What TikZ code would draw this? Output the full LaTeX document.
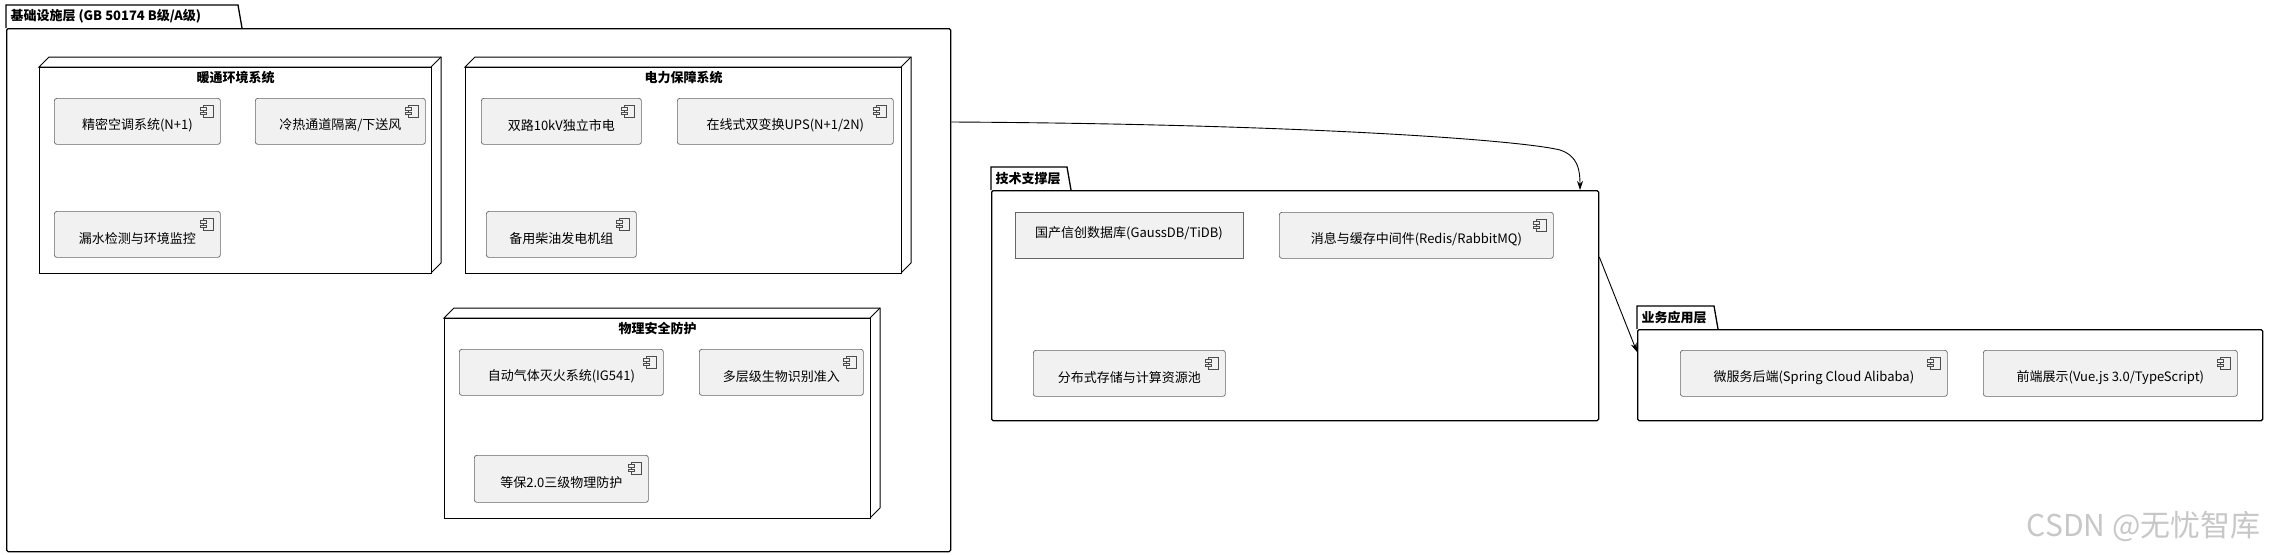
\documentclass[tikz,border=0pt]{standalone}
\usepackage{fontspec}
\setmainfont{DejaVu Sans}
\newfontfamily\cjk{Noto Sans CJK SC}
\usetikzlibrary{shapes.geometric,arrows.meta}
\definecolor{cfill}{HTML}{F1F1F1}
\tikzset{
  comp/.style={draw=black!60,fill=cfill,rounded corners=2.5pt,line width=0.7pt,anchor=north west,inner sep=0pt},
  ctext/.style={font=\cjk\fontsize{13}{15}\selectfont},
  icon/.style={draw=black!70,fill=cfill,line width=0.6pt},
  pkg/.style={draw=black,line width=1.3pt,fill=white,anchor=north west,inner sep=0pt,rounded corners=1.5pt},
  ptitle/.style={font=\cjk\bfseries\fontsize{13}{15}\selectfont,anchor=west},
  nd/.style={draw=black,line width=1pt,fill=white},
  arr/.style={draw=black,line width=0.9pt,-{Stealth[length=9pt,width=6pt]}},
}
\newcommand\mkcomp[6]{%
  \node[comp,minimum width=#4pt-#2pt,minimum height=#5pt-#3pt] (#1) at (#2,#3) {};
  \node[ctext] (#1t) at ([yshift=-4pt]#1.center) {#6};
  \draw[icon] ([xshift=-17pt,yshift=-7pt]#1.north east) rectangle ++(10pt,-12pt);
  \draw[icon] ([xshift=-20pt,yshift=-9.5pt]#1.north east) rectangle ++(6pt,-2.5pt);
  \draw[icon] ([xshift=-20pt,yshift=-14pt]#1.north east) rectangle ++(6pt,-2.5pt);
}
% 3D node: name x1 y1 x2 y2 title
\newcommand\mknode[6]{%
  \draw[nd] (#2,#3+10) -- (#2+10,#3) -- (#4,#3) -- (#4,#5-10) -- (#4-10,#5) -- (#4-10,#3+10) -- cycle;
  \draw[nd] (#4-10,#3+10) -- (#4,#3);
  \node[nd,anchor=north west,inner sep=0pt,minimum width=#4pt-#2pt-10pt,minimum height=#5pt-#3pt-10pt] (#1) at (#2,#3+10) {};
  \node[font=\cjk\bfseries\fontsize{13}{15}\selectfont] (#1t) at ([yshift=-11pt]#1.north) {#6};
}
% package: name x1 tabtop bodytop x2 bottom tabright title
\newcommand\mkpkg[8]{%
  \draw[line width=1.3pt,fill=white] (#2,#4) -- (#2,#3) -- (#7-4,#3) -- (#7,#4);
  \node[pkg,minimum width=#5pt-#2pt,minimum height=#6pt-#4pt] (#1) at (#2,#4) {};
  \node[ptitle] (#1t) at (#2+1,#3/2+#4/2) {#8};
}
\begin{document}
\begin{tikzpicture}[x=1pt,y=-1pt]
\useasboundingbox (0,0) rectangle (2269,554);
\fill[white] (0,0) rectangle (2269,554);

\mkpkg{infra}{6}{5}{28}{950}{551}{242}{基础设施层 (GB 50174 B级/A级)}
\mknode{hvac}{39}{57}{441}{273}{暖通环境系统}
\mkcomp{c1}{54}{98}{220}{144}{精密空调系统(N+1)}
\mkcomp{c2}{255}{98}{425}{144}{冷热通道隔离/下送风}
\mkcomp{c3}{54}{211}{220}{257}{漏水检测与环境监控}
\mknode{power}{465}{57}{911}{273}{电力保障系统}
\mkcomp{c4}{481}{98}{641}{144}{双路10kV独立市电}
\mkcomp{c5}{677}{98}{893}{144}{在线式双变换UPS(N+1/2N)}
\mkcomp{c6}{486}{211}{636}{257}{备用柴油发电机组}
\mknode{phys}{444}{308}{880}{518}{物理安全防护}
\mkcomp{c7}{459}{349}{663}{395}{自动气体灭火系统(IG541)}
\mkcomp{c8}{699}{349}{863}{395}{多层级生物识别准入}
\mkcomp{c9}{474}{455}{648}{502}{等保2.0三级物理防护}

\mkpkg{tech}{991}{167}{190}{1598}{420}{1071}{技术支撑层}
\node[cylinder,shape border rotate=90,aspect=0.25,draw=black!60,fill=cfill,line width=0.7pt,minimum width=228pt,minimum height=46pt,ctext,inner sep=0pt] (db) at (1129,236) {};
\node[ctext] (dbt) at ([yshift=3pt]db.center) {国产信创数据库(GaussDB/TiDB)};
\mkcomp{c10}{1279}{212}{1553}{258}{消息与缓存中间件(Redis/RabbitMQ)}
\mkcomp{c11}{1033}{350}{1225}{396}{分布式存储与计算资源池}

\mkpkg{biz}{1637}{306}{329}{2262}{420}{1718}{业务应用层}
\mkcomp{c12}{1680}{350}{1947}{396}{微服务后端(Spring Cloud Alibaba)}
\mkcomp{c13}{1983}{350}{2237}{396}{前端展示(Vue.js 3.0/TypeScript)}

\draw[arr] ([yshift=-94pt]infra.north east) .. controls (1300,124) and (1520,140) .. (1560,150) .. controls (1578,156) and (1580,170) .. (tech.north east -| 1580,0);
\draw[arr] ([yshift=-67pt]tech.north east) -- ([yshift=-23pt]biz.north west);

\node[font=\cjk\fontsize{30}{32}\selectfont,text=black!22,anchor=south east] (wm) at (2264,545) {CSDN @无忧智库};
\end{tikzpicture}
\end{document}
